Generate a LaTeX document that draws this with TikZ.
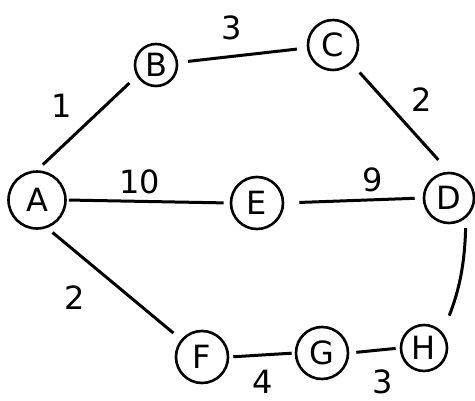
\documentclass[tikz,border=0pt]{standalone}
\usepackage{fontspec}
\setmainfont{DejaVu Sans}
\begin{document}
\begin{tikzpicture}[x=1pt,y=-1pt,
  vtx/.style={circle,draw,line width=2.6pt,minimum size=50pt,inner sep=0pt,font=\fontsize{32}{34}\selectfont},
  edge/.style={line width=3pt},
  wlabel/.style={font=\fontsize{32}{34}\selectfont}]
\useasboundingbox (0,0) rectangle (475,400);
\node[vtx,minimum size=57pt] (A) at (37,200) {A};
\node[vtx,minimum size=42pt] (B) at (156,65) {B};
\node[vtx] (C) at (333,45) {C};
\node[vtx] (D) at (449,198) {D};
\node[vtx,minimum size=52pt] (E) at (257,203) {E};
\node[vtx,minimum size=52pt] (F) at (202,357) {F};
\node[vtx,minimum size=52pt] (G) at (322,353) {G};
\node[vtx,minimum size=46pt] (H) at (424,348) {H};
\draw[edge,shorten <=8pt,shorten >=10pt] (A.north) -- (B.210);
\draw[edge,shorten <=10pt,shorten >=10pt] (B) -- (C);
\draw[edge,shorten <=12pt,shorten >=16pt] (C.south east) -- (D.north);
\draw[edge,shorten <=2pt,shorten >=6pt] (A.east) -- (E.west);
\draw[edge,shorten <=15pt,shorten >=8pt] (E.east) -- (D.west);
\draw[edge,shorten <=7pt,shorten >=10pt] (A.-70) -- (F.140);
\draw[edge,shorten <=4pt,shorten >=3pt] (F.east) -- (G.west);
\draw[edge,shorten <=7pt,shorten >=4pt] (G.east) -- (H.west);
\draw[edge,shorten <=10pt,shorten >=18pt] (D.-50) to[bend left=10] (H.40);
\node[wlabel] (w1) at (62,106) {1};
\node[wlabel] (w2) at (232,28) {3};
\node[wlabel] (w3) at (422,100) {2};
\node[wlabel] (w4) at (140,182) {10};
\node[wlabel] (w5) at (373,180) {9};
\node[wlabel] (w6) at (75,298) {2};
\node[wlabel] (w7) at (263,382) {4};
\node[wlabel] (w8) at (383,382) {3};
\end{tikzpicture}
\end{document}
